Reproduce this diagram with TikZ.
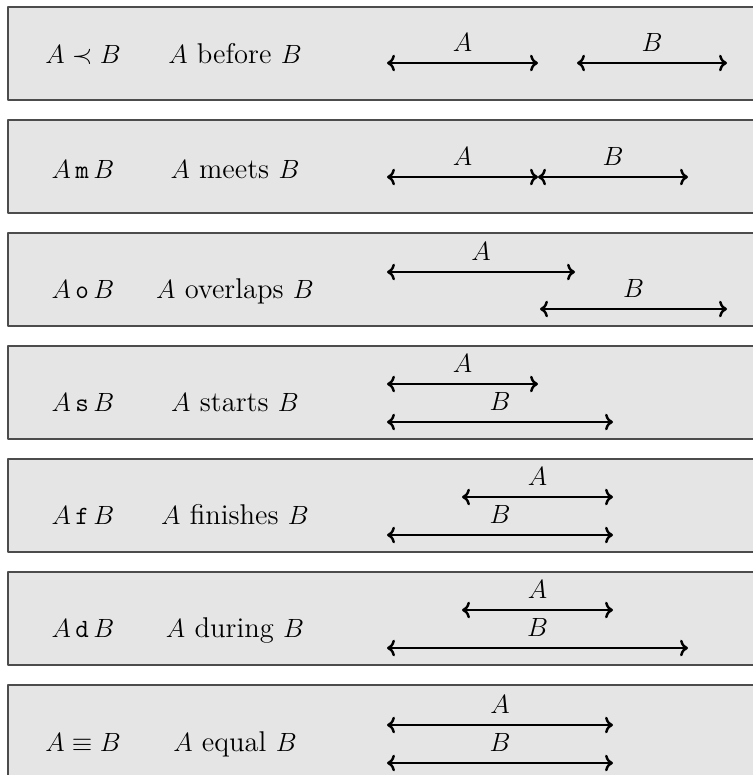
\documentclass[tikz,border=0pt]{standalone}
\usepackage{amssymb}
\usetikzlibrary{arrows.meta}

\newcommand{\relfont}{\fontsize{13}{15}\selectfont}
\tikzset{
  relbox/.style={draw=black!70, fill=black!10, line width=0.6pt},
  interval/.style={<->, line width=1.1pt},
  lbl/.style={above=4.5pt, inner sep=0pt, font=\relfont},
  sym/.style={anchor=base, inner sep=0pt, font=\relfont},
  relname/.style={anchor=base, inner sep=0pt, font=\relfont}
}

\begin{document}
\begin{tikzpicture}[x=0.16mm, y=-0.16mm, >={To[scale=0.9]}, line join=round, line cap=round]
        \path[use as bounding box, clip] (0,0) rectangle (753,775);
        % one box per relation
        \foreach \t in {7,120,233,346,459,572,685}
          \draw[relbox] (8,\t) rectangle (770,\t+93);

        % before
        \node[sym] (s1) at (83,63) {$A \prec B$};
        \node[relname] (n1) at (235,63) {$A$ before $B$};
        \coordinate (a1l) at (387,63); \coordinate (a1r) at (538,63);
        \coordinate (b1l) at (577,63); \coordinate (b1r) at (727,63);
        \draw[interval] (a1l) -- node[lbl] (la1) {$A$} (a1r);
        \draw[interval] (b1l) -- node[lbl] (lb1) {$B$} (b1r);

        % meets
        \node[sym] (s2) at (83,178) {$A\,\mathtt{m}\,B$};
        \node[relname] (n2) at (235,178) {$A$ meets $B$};
        \coordinate (a2l) at (387,177); \coordinate (m2) at (538,177);
        \coordinate (b2r) at (688,177);
        \draw[interval] (a2l) -- node[lbl] (la2) {$A$} (m2);
        \draw[interval] (m2) -- node[lbl] (lb2) {$B$} (b2r);

        % overlaps
        \node[sym] (s3) at (83,298) {$A\,\mathtt{o}\,B$};
        \node[relname] (n3) at (235,298) {$A$ overlaps $B$};
        \coordinate (a3l) at (387,272); \coordinate (a3r) at (575,272);
        \coordinate (b3l) at (540,309); \coordinate (b3r) at (727,309);
        \draw[interval] (a3l) -- node[lbl] (la3) {$A$} (a3r);
        \draw[interval] (b3l) -- node[lbl] (lb3) {$B$} (b3r);

        % starts
        \node[sym] (s4) at (83,411) {$A\,\mathtt{s}\,B$};
        \node[relname] (n4) at (235,411) {$A$ starts $B$};
        \coordinate (a4l) at (387,384); \coordinate (a4r) at (538,384);
        \coordinate (b4l) at (387,422); \coordinate (b4r) at (613,422);
        \draw[interval] (a4l) -- node[lbl] (la4) {$A$} (a4r);
        \draw[interval] (b4l) -- node[lbl] (lb4) {$B$} (b4r);

        % finishes
        \node[sym] (s5) at (83,524) {$A\,\mathtt{f}\,B$};
        \node[relname] (n5) at (235,524) {$A$ finishes $B$};
        \coordinate (a5l) at (462,497); \coordinate (a5r) at (613,497);
        \coordinate (b5l) at (387,535); \coordinate (b5r) at (613,535);
        \draw[interval] (a5l) -- node[lbl] (la5) {$A$} (a5r);
        \draw[interval] (b5l) -- node[lbl] (lb5) {$B$} (b5r);

        % during
        \node[sym] (s6) at (83,637) {$A\,\mathtt{d}\,B$};
        \node[relname] (n6) at (235,637) {$A$ during $B$};
        \coordinate (a6l) at (462,610); \coordinate (a6r) at (613,610);
        \coordinate (b6l) at (387,648); \coordinate (b6r) at (688,648);
        \draw[interval] (a6l) -- node[lbl] (la6) {$A$} (a6r);
        \draw[interval] (b6l) -- node[lbl] (lb6) {$B$} (b6r);

        % equal
        \node[sym] (s7) at (83,751) {$A \equiv B$};
        \node[relname] (n7) at (235,751) {$A$ equal $B$};
        \coordinate (a7l) at (387,725); \coordinate (a7r) at (613,725);
        \coordinate (b7l) at (387,763); \coordinate (b7r) at (613,763);
        \draw[interval] (a7l) -- node[lbl] (la7) {$A$} (a7r);
        \draw[interval] (b7l) -- node[lbl] (lb7) {$B$} (b7r);
    \end{tikzpicture}
\end{document}
